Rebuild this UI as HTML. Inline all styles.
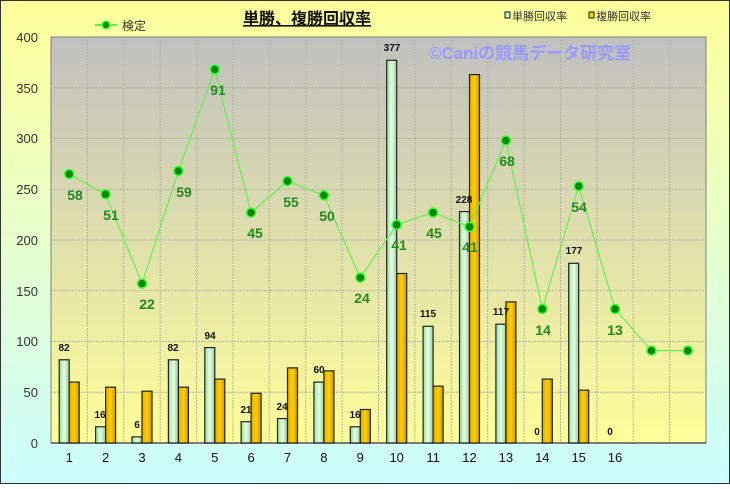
<!DOCTYPE html>
<html><head><meta charset="utf-8"><style>html,body{margin:0;padding:0}body{width:730px;height:484px;overflow:hidden}</style></head><body>
<svg width="730" height="484" xmlns="http://www.w3.org/2000/svg" font-family="Liberation Sans, Noto Sans CJK JP, sans-serif">
<defs>
<linearGradient id="bg" x1="0" y1="0" x2="0" y2="1"><stop offset="0" stop-color="#ffff99"/><stop offset="1" stop-color="#ccffff"/></linearGradient>
<linearGradient id="pa" x1="0" y1="0" x2="0" y2="1"><stop offset="0" stop-color="#c0c0c0"/><stop offset="1" stop-color="#ffff99"/></linearGradient>
<linearGradient id="gb" x1="0" y1="0" x2="1" y2="0"><stop offset="0" stop-color="#99dd99"/><stop offset="0.5" stop-color="#e6ffe6"/><stop offset="1" stop-color="#99cc99"/></linearGradient>
<linearGradient id="yb" x1="0" y1="0" x2="1" y2="0"><stop offset="0" stop-color="#e6a800"/><stop offset="0.5" stop-color="#ffd000"/><stop offset="1" stop-color="#cc9900"/></linearGradient>
</defs>
<rect x="0.5" y="0.5" width="729" height="483" fill="url(#bg)" stroke="#333"/>
<rect x="51" y="37" width="655" height="406" fill="url(#pa)" stroke="#808080"/>
<g stroke="#b4b4a0" stroke-dasharray="2,1" stroke-width="1">
<path d="M51 392.2H706M51 341.5H706M51 290.8H706M51 240H706M51 189.2H706M51 138.5H706M51 87.8H706"/>
<path d="M87.4 37V443M123.8 37V443M160.2 37V443M196.6 37V443M233 37V443M269.3 37V443M305.7 37V443M342.1 37V443M378.5 37V443M414.9 37V443M451.3 37V443M487.7 37V443M524.1 37V443M560.5 37V443M596.8 37V443M633.2 37V443M669.6 37V443"/>
</g>
<line x1="51" y1="443" x2="706" y2="443" stroke="#555" stroke-width="1.5"/>
<g font-size="13" fill="#333" text-anchor="end">
<text x="38" y="42">400</text><text x="38" y="93">350</text><text x="38" y="143">300</text><text x="38" y="194">250</text><text x="38" y="245">200</text><text x="38" y="296">150</text><text x="38" y="346">100</text><text x="38" y="397">50</text><text x="38" y="448">0</text>
</g>
<g font-size="13" fill="#111" text-anchor="middle">
<text x="69.2" y="462">1</text><text x="105.6" y="462">2</text><text x="142" y="462">3</text><text x="178.4" y="462">4</text><text x="214.8" y="462">5</text><text x="251.1" y="462">6</text><text x="287.5" y="462">7</text><text x="323.9" y="462">8</text><text x="360.3" y="462">9</text><text x="396.7" y="462">10</text><text x="433.1" y="462">11</text><text x="469.5" y="462">12</text><text x="505.9" y="462">13</text><text x="542.3" y="462">14</text><text x="578.7" y="462">15</text><text x="615" y="462">16</text>
</g>
<text x="530" y="59" font-size="17" font-weight="bold" fill="#9999ff" text-anchor="middle">©Caniの競馬データ研究室</text>
<g stroke="#222" stroke-width="1.2">
<rect x="59.2" y="359.8" width="10" height="83.2" fill="url(#gb)"/><rect x="69.2" y="382.1" width="10" height="60.9" fill="url(#yb)"/>
<rect x="95.6" y="426.8" width="10" height="16.2" fill="url(#gb)"/><rect x="105.6" y="387.2" width="10" height="55.8" fill="url(#yb)"/>
<rect x="132" y="436.9" width="10" height="6.1" fill="url(#gb)"/><rect x="142" y="391.2" width="10" height="51.8" fill="url(#yb)"/>
<rect x="168.4" y="359.8" width="10" height="83.2" fill="url(#gb)"/><rect x="178.4" y="387.2" width="10" height="55.8" fill="url(#yb)"/>
<rect x="204.8" y="347.6" width="10" height="95.4" fill="url(#gb)"/><rect x="214.8" y="379.1" width="10" height="63.9" fill="url(#yb)"/>
<rect x="241.1" y="421.7" width="10" height="21.3" fill="url(#gb)"/><rect x="251.1" y="393.3" width="10" height="49.7" fill="url(#yb)"/>
<rect x="277.5" y="418.6" width="10" height="24.4" fill="url(#gb)"/><rect x="287.5" y="367.9" width="10" height="75.1" fill="url(#yb)"/>
<rect x="313.9" y="382.1" width="10" height="60.9" fill="url(#gb)"/><rect x="323.9" y="370.9" width="10" height="72.1" fill="url(#yb)"/>
<rect x="350.3" y="426.8" width="10" height="16.2" fill="url(#gb)"/><rect x="360.3" y="409.5" width="10" height="33.5" fill="url(#yb)"/>
<rect x="386.7" y="60.3" width="10" height="382.7" fill="url(#gb)"/><rect x="396.7" y="273.5" width="10" height="169.5" fill="url(#yb)"/>
<rect x="423.1" y="326.3" width="10" height="116.7" fill="url(#gb)"/><rect x="433.1" y="386.2" width="10" height="56.8" fill="url(#yb)"/>
<rect x="459.5" y="211.6" width="10" height="231.4" fill="url(#gb)"/><rect x="469.5" y="74.6" width="10" height="368.4" fill="url(#yb)"/>
<rect x="495.9" y="324.2" width="10" height="118.8" fill="url(#gb)"/><rect x="505.9" y="301.9" width="10" height="141.1" fill="url(#yb)"/>
<rect x="542.3" y="379.1" width="10" height="63.9" fill="url(#yb)"/>
<rect x="568.7" y="263.3" width="10" height="179.7" fill="url(#gb)"/><rect x="578.7" y="390.2" width="10" height="52.8" fill="url(#yb)"/>
</g>
<g font-size="10" font-weight="bold" fill="#111" text-anchor="middle">
<text x="64" y="351">82</text><text x="100" y="418">16</text><text x="137" y="428">6</text><text x="173" y="351">82</text><text x="210" y="339">94</text><text x="246" y="413">21</text><text x="282" y="410">24</text><text x="319" y="373">60</text><text x="355" y="418">16</text><text x="392" y="51">377</text><text x="428" y="317">115</text><text x="464" y="203">228</text><text x="501" y="315">117</text><text x="537" y="435">0</text><text x="574" y="254">177</text><text x="610" y="435">0</text>
</g>
<polyline fill="none" stroke="#66ee55" stroke-width="1.2" points="69.2,174 105.6,194.3 142,283.6 178.4,171 214.8,69.5 251.1,212.6 287.5,181.1 323.9,195.3 360.3,277.6 396.7,224.8 433.1,212.6 469.5,226.8 505.9,140.5 542.3,309 578.7,186.2 615,309 651.4,350.6 687.8,350.6"/>
<g fill="#008800" stroke="#33ff33" stroke-width="1.5">
<circle cx="69.2" cy="174" r="4.5"/><circle cx="105.6" cy="194.3" r="4.5"/><circle cx="142" cy="283.6" r="4.5"/><circle cx="178.4" cy="171" r="4.5"/><circle cx="214.8" cy="69.5" r="4.5"/><circle cx="251.1" cy="212.6" r="4.5"/><circle cx="287.5" cy="181.1" r="4.5"/><circle cx="323.9" cy="195.3" r="4.5"/><circle cx="360.3" cy="277.6" r="4.5"/><circle cx="396.7" cy="224.8" r="4.5"/><circle cx="433.1" cy="212.6" r="4.5"/><circle cx="469.5" cy="226.8" r="4.5"/><circle cx="505.9" cy="140.5" r="4.5"/><circle cx="542.3" cy="309" r="4.5"/><circle cx="578.7" cy="186.2" r="4.5"/><circle cx="615" cy="309" r="4.5"/><circle cx="651.4" cy="350.6" r="4.5"/><circle cx="687.8" cy="350.6" r="4.5"/>
</g>
<g font-size="14" font-weight="bold" fill="#228822" text-anchor="middle">
<text x="75" y="200">58</text><text x="111" y="220">51</text><text x="147" y="309">22</text><text x="184" y="197">59</text><text x="218" y="95">91</text><text x="255" y="238">45</text><text x="291" y="207">55</text><text x="327" y="221">50</text><text x="362" y="303">24</text><text x="399" y="250">41</text><text x="434" y="238">45</text><text x="470" y="252">41</text><text x="507" y="166">68</text><text x="543" y="335">14</text><text x="579" y="212">54</text><text x="615" y="335">13</text>
</g>
<text x="307" y="24" font-size="16" font-weight="bold" fill="#111" text-anchor="middle" text-decoration="underline">単勝、複勝回収率</text>
<line x1="95" y1="25" x2="117" y2="25" stroke="#33ee33" stroke-width="1.5"/>
<circle cx="106" cy="25" r="3.8" fill="#008800" stroke="#33ff33" stroke-width="1.5"/>
<text x="122" y="30" font-size="12" fill="#333">検定</text>
<rect x="505" y="12" width="5" height="6" fill="#ccffcc" stroke="#111"/>
<text x="512" y="20" font-size="11" fill="#333">単勝回収率</text>
<rect x="589" y="12" width="5" height="6" fill="#ffcc00" stroke="#111"/>
<text x="596" y="20" font-size="11" fill="#333">複勝回収率</text>
</svg>
</body></html>
